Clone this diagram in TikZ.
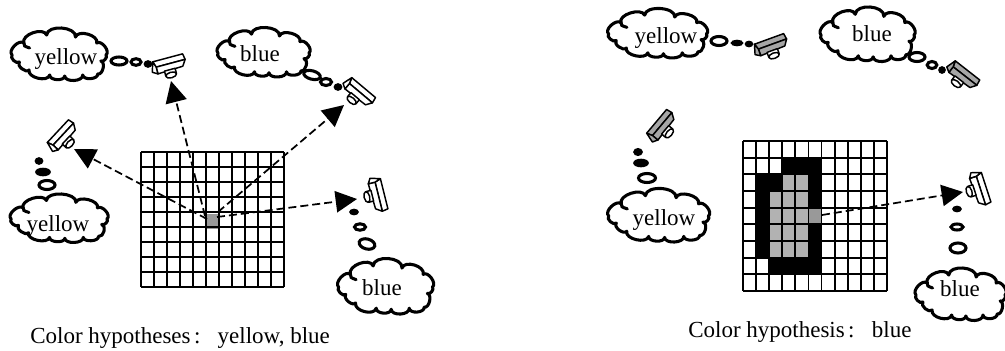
\documentclass[tikz,border=0pt]{standalone}
\usepackage{fontspec}
\setmainfont{Liberation Serif}
\usetikzlibrary{arrows.meta,calc}
\tikzset{
  x=.75pt,y=-.75pt,
  cloudline/.style={draw=black,line width=2.3pt,line join=round,line cap=round,fill=white},
  curl/.style={draw=black,line width=2.3pt,line cap=round},
  lab/.style={inner sep=0pt,anchor=base,font=\fontsize{17.25}{20}\selectfont},
  captiontext/.style={inner sep=0pt,anchor=base west,font=\fontsize{17.25}{20}\selectfont},
  bub/.style={draw=black,line width=2.3pt,fill=white},
  bubf/.style={draw=black,line width=1.2pt,fill=black},
  camline/.style={draw=black,line width=1.1pt,line join=round},
  gridline/.style={draw=black,line width=1.4pt},
  look/.style={draw=black,line width=1.3pt,dash pattern=on 6pt off 3pt,-{Triangle[length=16pt,width=16pt]}},
}
\newcommand\bump[2]{.. controls ($(#1)!.38!90:(#2)$) and ($(#2)!.38!-90:(#1)$) .. (#2)}
\newcommand\thoughtcloud[4]{%
  \begin{scope}[shift={(#1,#2)},xscale=#3/94,yscale=#4/52]
    \coordinate (cA) at (-33.5,-11);
    \coordinate (cB) at (-11.5,-19);
    \coordinate (cC) at (16.5,-17);
    \coordinate (cD) at (37,-11);
    \coordinate (cE) at (46,1);
    \coordinate (cF) at (41,7);
    \coordinate (cG) at (38,20);
    \coordinate (cH) at (23.5,21);
    \coordinate (cI) at (6,22);
    \coordinate (cJ) at (-8.5,21);
    \coordinate (cK) at (-28.5,16);
    \coordinate (cL) at (-38,8);
    \coordinate (cM) at (-45,1);
    \path[cloudline] (cA) \bump{cA}{cB} \bump{cB}{cC} \bump{cC}{cD} \bump{cD}{cE} \bump{cE}{cF} \bump{cF}{cG}
      \bump{cG}{cH} \bump{cH}{cI} \bump{cI}{cJ} \bump{cJ}{cK} \bump{cK}{cL} \bump{cL}{cM} \bump{cM}{cA} -- cycle;
    \path[curl] (cA) .. controls (-33.5,-8) .. (-28,-6);
  \end{scope}}
\newcommand\camera[5][white]{%
  \begin{scope}[shift={(#2,#3)},rotate=#4]
    \path[camline,fill=#5] (-14,-7) -- (17,-7) -- (18,-1) -- (-12,-1) -- cycle;
    \path[camline,fill=#1] (-12,-1) -- (18,-1) -- (14,5) -- (-12,6) -- cycle;
    \path[camline,fill=#5] (-14,-7) -- (-12,-1) -- (-12,6) -- (-17,3) -- cycle;
    \path[camline,fill=white] (-5,5) -- (6,5) -- (6,10) -- (-5,10) -- cycle;
    \path[camline,fill=white] (.5,10.5) ellipse [x radius=5.5,y radius=2.8];
  \end{scope}}
\newcommand\cellfill[3]{\fill[#3] ({743+#1*13.09},{141+#2*16.67}) rectangle ({743+(#1+1)*13.09},{141+(#2+1)*16.67});}
\begin{document}
\begin{tikzpicture}
\useasboundingbox (0,0) rectangle (1005,350);
\fill[white] (0,0) rectangle (1005,350);
% left grid
\node[fill=black!40,inner sep=0pt,minimum width=9.75pt,minimum height=11.25pt] (cellL) at (212.5,221) {};
\foreach \i in {0,...,11} \draw[gridline] ({141+\i*13},152) -- ({141+\i*13},287);
\foreach \j in {0,...,9} \draw[gridline] (141,{152+\j*15}) -- (284,{152+\j*15});
% right grid
\foreach \r/\a/\b in {1/3/5,2/1/5,3/1/5,4/1/5,5/1/5,6/1/5,7/2/5}
  \foreach \c in {\a,...,\b} {\cellfill{\c}{\r}{black}}
\foreach \r/\a/\b in {2/3/4,3/2/4,4/2/4,5/2/4,6/2/4}
  \foreach \c in {\a,...,\b} {\cellfill{\c}{\r}{black!30}}
\cellfill{5}{4}{black!40}
\foreach \i in {0,...,11} \draw[gridline] ({743+\i*13.09},141) -- ({743+\i*13.09},291);
\foreach \j in {0,...,9} \draw[gridline] (743,{141+\j*16.67}) -- (887,{141+\j*16.67});
% clouds
\thoughtcloud{58.5}{54}{97}{52}
\thoughtcloud{263}{52}{94}{49}
\thoughtcloud{58.5}{218}{99}{48}
\thoughtcloud{385}{286}{97}{55}
\thoughtcloud{657}{33}{101}{49}
\thoughtcloud{867}{34}{96}{54}
\thoughtcloud{658}{215}{103}{53}
\thoughtcloud{960}{294}{92}{52}
\node[lab] (t1) at (66,64) {yellow};
\node[lab] (t2) at (260,61) {blue};
\node[lab] (t3) at (58,231) {yellow};
\node[lab] (t4) at (382,295) {blue};
\node[lab] (t5) at (666,43) {yellow};
\node[lab] (t6) at (872,41) {blue};
\node[lab] (t7) at (664,225) {yellow};
\node[lab] (t8) at (960,296) {blue};
% bubbles
\path[bub] (119,61) ellipse [x radius=8,y radius=4];
\path[bub] (136,62) ellipse [x radius=5,y radius=3.3];
\path[bubf] (148,64) ellipse [x radius=3.5,y radius=3];
\path[bub] (312,75) ellipse [x radius=8.5,y radius=4.2,rotate=-15];
\path[bub] (326,82) ellipse [x radius=5.5,y radius=3.5];
\path[bubf] (338,87) ellipse [x radius=3.5,y radius=3];
\path[bubf] (39,161) ellipse [x radius=3.5,y radius=3];
\path[bubf] (43,172) ellipse [x radius=7,y radius=3.5];
\path[bub] (47,185) ellipse [x radius=8,y radius=4.5];
\path[bubf] (354,212) ellipse [x radius=4,y radius=2.5];
\path[bub] (360,227) ellipse [x radius=5.5,y radius=3.2];
\path[bub] (367,244) ellipse [x radius=8,y radius=5,rotate=-15];
\path[bub] (719,41) ellipse [x radius=8,y radius=4.5];
\path[bubf] (737,43) ellipse [x radius=5.5,y radius=2.5];
\path[bubf] (749,44) ellipse [x radius=3.5,y radius=2.5];
\path[bub] (917,57) ellipse [x radius=8,y radius=4.5];
\path[bub] (932,65) ellipse [x radius=4.8,y radius=3.5];
\path[bubf] (942,70) ellipse [x radius=3,y radius=3];
\path[bubf] (638,152) ellipse [x radius=4,y radius=3.2];
\path[bubf] (641,163) ellipse [x radius=7,y radius=3.5];
\path[bub] (647,178) ellipse [x radius=8.5,y radius=4.5];
\path[bubf] (957,209) ellipse [x radius=4,y radius=2.5];
\path[bub] (957,227) ellipse [x radius=6,y radius=3];
\path[bub] (958,248) ellipse [x radius=8,y radius=5];
% cameras
\camera{168}{65}{15}{white}
\camera{62}{137}{47}{white}
\camera{358}{92}{-40}{white}
\camera{377}{194}{-76}{white}
\camera[black!35]{770}{46}{20}{black!35}
\camera[black!35]{661}{127}{50}{black!35}
\camera[black!35]{962}{75}{-38}{black!35}
\camera{979}{188}{-72}{white}
% arrows
\coordinate (s1) at (205,216);
\coordinate (s2) at (207,219);
\coordinate (s3) at (218,212);
\coordinate (s4) at (217,217);
\coordinate (s5) at (822,215);
\coordinate (e1) at (171,81);
\coordinate (e2) at (74,149);
\coordinate (e3) at (344,105);
\coordinate (e4) at (357,199);
\coordinate (e5) at (963,192);
\draw[look] (s1) -- (e1);
\draw[look] (s2) -- (e2);
\draw[look] (s3) -- (e3);
\draw[look] (s4) -- (e4);
\draw[look] (s5) -- (e5);
% captions
\node[captiontext] (c1) at (30,343) {Color hypotheses\hspace{.15em}:\hspace{.75em}yellow, blue};
\node[captiontext] (c2) at (688,337) {Color hypothesis\hspace{.15em}:\hspace{.75em}blue};
\end{tikzpicture}
\end{document}
